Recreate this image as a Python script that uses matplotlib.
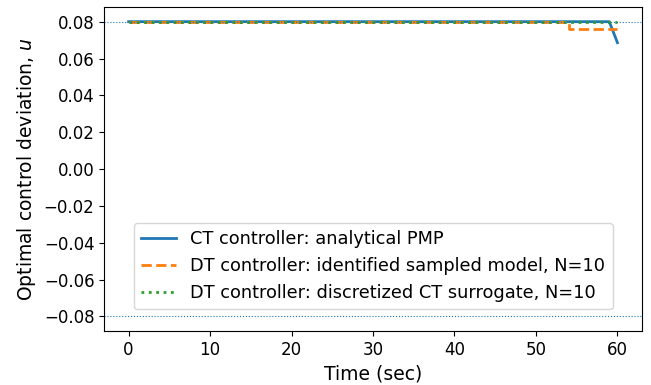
import numpy as np
import matplotlib
matplotlib.use("Agg")
import matplotlib.pyplot as plt

# CT controller (analytical PMP)
t_ct = [0, 10, 20, 30, 40, 50, 58, 59, 60]
u_ct = [0.08, 0.08, 0.08, 0.08, 0.08, 0.08, 0.08, 0.08, 0.0686]

# DT controller: identified sampled model, N=10 (step every 6 s)
t_dt = [0, 6, 12, 18, 24, 30, 36, 42, 48, 54, 60]
u_dt_id = [0.08, 0.08, 0.08, 0.08, 0.08, 0.08, 0.08, 0.08, 0.08, 0.0762, 0.0762]

# DT controller: discretized CT surrogate, N=10
u_dt_sur = [0.08, 0.08, 0.08, 0.08, 0.08, 0.08, 0.08, 0.08, 0.08, 0.08, 0.08]

u_max = 0.08
u_min = -0.08

fig = plt.figure(figsize=(6.51, 3.85), dpi=100)
ax = fig.add_axes([0.160, 0.140, 0.826, 0.842])

ax.plot(t_ct, u_ct, color='tab:blue', lw=2, label='CT controller: analytical PMP')
ax.step(t_dt, u_dt_id, where='post', color='tab:orange', lw=2, ls='--',
        label='DT controller: identified sampled model, N=10')
ax.step(t_dt, u_dt_sur, where='post', color='tab:green', lw=2, ls=':',
        label='DT controller: discretized CT surrogate, N=10')
ax.axhline(u_max, color='tab:blue', ls=':', lw=0.8)
ax.axhline(u_min, color='tab:blue', ls=':', lw=0.8)

ax.set_xlabel('Time (sec)', fontsize=13.5)
ax.set_ylabel('Optimal control deviation, $u$', fontsize=13.5)
ax.tick_params(labelsize=12)
ax.set_xticks([0, 10, 20, 30, 40, 50, 60])
ax.set_yticks(np.round(np.arange(-0.08, 0.0801, 0.02), 2))

ax.legend(loc='lower center', fontsize=12.8, bbox_to_anchor=(0.5, 0.04))

fig.savefig('out.png', dpi=100)
